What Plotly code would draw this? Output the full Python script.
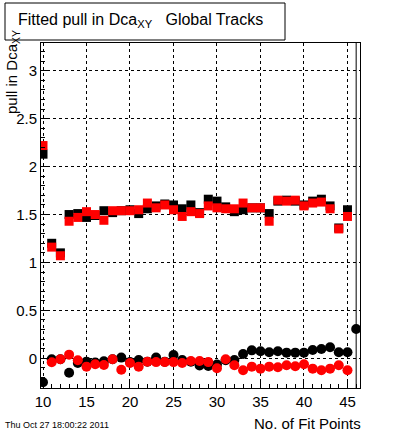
import plotly.graph_objects as go

# ---- data ----
fit_points = list(range(10, 47))

# sigma (squares), fit points 10..45
sigma_black = [2.13, 1.20, 1.10, 1.50, 1.51, 1.47, 1.49, 1.54, 1.52, 1.54,
               1.55, 1.51, 1.56, 1.59, 1.61, 1.60, 1.56, 1.60, 1.52, 1.66,
               1.64, 1.58, 1.53, 1.55, 1.57, 1.57, 1.51, 1.64, 1.65, 1.64,
               1.60, 1.64, 1.66, 1.59, 1.36, 1.55]
sigma_red = [2.22, 1.16, 1.07, 1.43, 1.47, 1.53, 1.50, 1.44, 1.54, 1.54,
             1.54, 1.55, 1.62, 1.57, 1.60, 1.55, 1.48, 1.53, 1.51, 1.59,
             1.57, 1.56, 1.56, 1.62, 1.57, 1.57, 1.43, 1.65, 1.64, 1.65,
             1.59, 1.62, 1.63, 1.56, 1.35, 1.48]

# mean (circles)
mean_black = [-0.25, -0.01, -0.01, -0.15, -0.05, -0.035, -0.045, -0.03, -0.01, 0.007,
              -0.04, -0.017, -0.035, 0.007, -0.035, 0.035, -0.017, -0.035, -0.076, -0.08,
              -0.066, -0.02, -0.017, 0.045, 0.083, 0.073, 0.063, 0.073, 0.059, 0.059,
              0.059, 0.087, 0.097, 0.115, 0.063, 0.063, 0.306]
mean_black_err = [0.0] * 36 + [10.0]
mean_red = [None, -0.042, -0.01, 0.038, -0.02, -0.087, -0.063, -0.07, -0.01, -0.12,
            -0.05, -0.087, -0.035, -0.04, -0.04, -0.04, -0.05, -0.028, -0.028, -0.04,
            -0.104, -0.01, -0.073, -0.125, -0.087, -0.108, -0.087, -0.094, -0.073, -0.083,
            -0.063, -0.108, -0.125, -0.108, -0.073, -0.125]

x_ticks = [10, 15, 20, 25, 30, 35, 40, 45]
y_ticks = [0, 0.5, 1, 1.5, 2, 2.5, 3]
y_ticktext = ["0", "0.5", "1", "1.5", "2", "2.5", "3"]

FONT = "Liberation Sans, Arial, sans-serif"

fig = go.Figure()
fig.add_trace(go.Scatter(x=fit_points[:36], y=sigma_black, mode="markers",
                         marker=dict(symbol="square", size=9, color="black", line_width=0)))
fig.add_trace(go.Scatter(x=fit_points[:36], y=sigma_red, mode="markers",
                         marker=dict(symbol="square", size=9, color="red", line_width=0)))
fig.add_trace(go.Scatter(x=fit_points, y=mean_black, mode="markers",
                         error_y=dict(type="data", array=mean_black_err, color="black",
                                      thickness=1, width=0),
                         marker=dict(symbol="circle", size=10, color="black", line_width=0)))
fig.add_trace(go.Scatter(x=fit_points[:36], y=mean_red, mode="markers",
                         marker=dict(symbol="circle", size=10, color="red", line_width=0)))

axis_common = dict(showline=True, linecolor="black", linewidth=1, mirror=True,
                   ticks="inside", tickcolor="black", ticklen=8, zeroline=False,
                   showgrid=True, gridcolor="black", gridwidth=1, griddash="3px,3px",
                   tickfont=dict(family=FONT, size=15, color="black"))

fig.update_xaxes(range=[9.77, 46.44], tickvals=x_ticks,
                 minor=dict(ticks="inside", ticklen=4, dtick=1, tick0=10, tickcolor="black",
                            showgrid=False),
                 **axis_common)
fig.update_yaxes(range=[-0.31, 3.29], tickvals=y_ticks, ticktext=y_ticktext,
                 minor=dict(ticks="inside", ticklen=4, dtick=0.1, tick0=0, tickcolor="black",
                            showgrid=False),
                 **axis_common)

fig.update_layout(
    width=400, height=433,
    margin=dict(l=41, r=40, t=43, b=45),
    plot_bgcolor="white", paper_bgcolor="white",
    showlegend=False,
    font=dict(family=FONT, color="black"),
    shapes=[dict(type="rect", xref="paper", yref="paper",
                 x0=-36/319, x1=244/319, y0=(388-40)/345, y1=(388-3)/345,
                 line=dict(color="black", width=1), fillcolor="white", layer="above")],
    annotations=[
        dict(text="Fitted pull in Dca<sub>XY</sub>   Global Tracks", xref="paper", yref="paper",
             x=(140-41)/319, y=(388-20)/345, xanchor="center", yanchor="middle",
             showarrow=False, font=dict(size=16, family=FONT, color="black")),
        dict(text="pull in Dca<sub>XY</sub>", xref="paper", yref="paper",
             x=-29/319, y=(388-28)/345, xanchor="center", yanchor="top",
             textangle=-90, showarrow=False, font=dict(size=15, family=FONT, color="black")),
        dict(text="No. of Fit Points", xref="paper", yref="paper",
             x=(363-41)/319, y=(388-423)/345, xanchor="right", yanchor="middle",
             showarrow=False, font=dict(size=15, family=FONT, color="black")),
        dict(text="Thu Oct 27 18:00:22 2011", xref="paper", yref="paper",
             x=-38/319, y=(388-425)/345, xanchor="left", yanchor="middle",
             showarrow=False, font=dict(size=9, family=FONT, color="black")),
    ],
)

fig.write_html("out.html", config={"displayModeBar": False},
               post_script="document.body.style.margin='0';document.body.style.overflow='hidden';")
